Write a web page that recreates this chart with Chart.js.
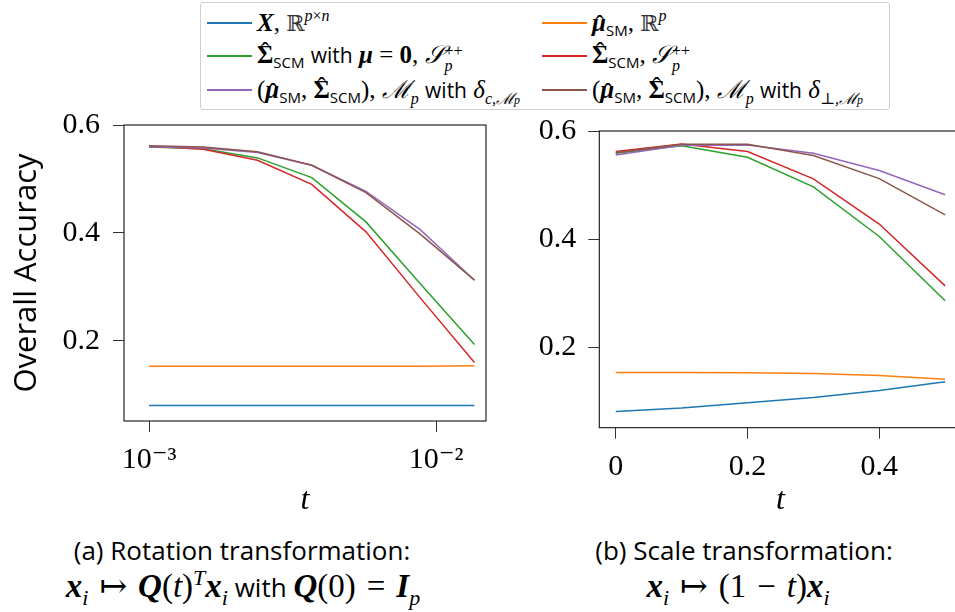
<!DOCTYPE html>
<html>
<head>
<meta charset="utf-8">
<script src="https://cdn.jsdelivr.net/npm/chart.js@4.4.0/dist/chart.umd.min.js"></script>
<style>
  html, body { margin: 0; padding: 0; background: #fff; }
  #wrap { position: relative; width: 955px; height: 612px; overflow: hidden; }
  canvas { position: absolute; }
  #rot { left: 0; top: 110px; }
  #scale { left: 500px; top: 110px; }
  .m { font-family: "Liberation Serif", "DejaVu Serif", serif; }
  #legend { position: absolute; left: 200px; top: 2px; width: 688px; height: 106px;
    border: 1px solid #d0d0d0; border-radius: 3px; background: #fff; }
  .item { position: absolute; display: flex; align-items: center; height: 32px; white-space: nowrap; color: #000; }
  .item .ln { width: 45px; height: 1.6px; margin-right: 5px; flex: none; }
  .tx { font-family: "Liberation Serif", "DejaVu Serif", serif; font-size: 25px; line-height: 32px; }
  .w { font-family: "Open Sans", sans-serif; font-size: 21px; }
  .sub { font-family: "Open Sans", sans-serif; font-size: 15px; vertical-align: -5px; line-height: 0; }
  .msub { font-size: 16px; vertical-align: -6px; font-style: italic; line-height: 0; }
  .msup { font-size: 16px; vertical-align: 10px; line-height: 0; }
  .ss { display: inline-flex; flex-direction: column; font-size: 16px; line-height: 15px;
    vertical-align: middle; margin-left: 1px; }
  .bb { font-family: "DejaVu Serif", serif; color: #333; font-size: 22px; }
  .hat, .hatC { position: relative; display: inline-block; }
  .hat::after, .hatC::after { content: "ˆ"; position: absolute; left: 55%; transform: translateX(-50%);
    font-weight: normal; font-style: normal; }
  .hat::after { top: 0.1em; }
  .hatC::after { top: -0.14em; left: 50%; }
  .cap { position: absolute; text-align: center; white-space: nowrap; transform: translateX(-50%);
    font-family: "Open Sans", sans-serif; font-size: 26px; color: #000; }
  .cap .m { font-size: 33px; }
  .cap sub, .cap sup { line-height: 0; font-size: 22px; }
  .sp { display: inline-block; width: 11px; }
</style>
</head>
<body>
<div id="wrap">
  <div id="legend">
    <div class="item" style="left:6px;top:4px"><span class="ln" style="background:#1f77b4"></span><span class="tx"><b><i>X</i></b>,&nbsp;<span class="bb">ℝ</span><span class="msup"><i>p</i>×<i>n</i></span></span></div>
    <div class="item" style="left:341px;top:4px"><span class="ln" style="background:#ff7f0e"></span><span class="tx"><b><i class="hat">μ</i></b><span class="sub">SM</span>,&nbsp;<span class="bb">ℝ</span><span class="msup"><i>p</i></span></span></div>
    <div class="item" style="left:6px;top:37px"><span class="ln" style="background:#2ca02c"></span><span class="tx"><b class="hatC">Σ</b><span class="sub">SCM</span>&nbsp;<span class="w">with</span>&nbsp;<b><i>μ</i></b>&nbsp;=&nbsp;<b>0</b>,&nbsp;<i>𝒮</i><span class="ss"><span>++</span><i>p</i></span></span></div>
    <div class="item" style="left:341px;top:37px"><span class="ln" style="background:#d62728"></span><span class="tx"><b class="hatC">Σ</b><span class="sub">SCM</span>,&nbsp;<i>𝒮</i><span class="ss"><span>++</span><i>p</i></span></span></div>
    <div class="item" style="left:6px;top:71px"><span class="ln" style="background:#9467bd"></span><span class="tx">(<b><i class="hat">μ</i></b><span class="sub">SM</span>,&nbsp;<b class="hatC">Σ</b><span class="sub">SCM</span>),&nbsp;<i>ℳ</i><span class="msub">p</span>&nbsp;<span class="w">with</span>&nbsp;<i>δ</i><span class="msub">c,ℳ<span style="font-size:12px">p</span></span></span></div>
    <div class="item" style="left:341px;top:71px"><span class="ln" style="background:#8c564b"></span><span class="tx">(<b><i class="hat">μ</i></b><span class="sub">SM</span>,&nbsp;<b class="hatC">Σ</b><span class="sub">SCM</span>),&nbsp;<i>ℳ</i><span class="msub">p</span>&nbsp;<span class="w">with</span>&nbsp;<i>δ</i><span class="msub">⊥,ℳ<span style="font-size:12px">p</span></span></span></div>
  </div>

  <canvas id="rot" width="500" height="410"></canvas>
  <canvas id="scale" width="500" height="410"></canvas>

  <div class="cap" style="left:242px;top:532px">(a) Rotation transformation:</div>
  <div class="cap" style="left:243px;top:566px"><span class="m"><b><i>x</i></b><sub><i>i</i></sub><span class="sp"></span>↦<span class="sp"></span><b><i>Q</i></b>(<i>t</i>)<sup><i>T</i></sup><b><i>x</i></b><sub><i>i</i></sub></span> with <span class="m"><b><i>Q</i></b>(0)<span class="sp"></span>=<span class="sp"></span><b><i>I</i></b><sub><i>p</i></sub></span></div>
  <div class="cap" style="left:744px;top:532px">(b) Scale transformation:</div>
  <div class="cap" style="left:738px;top:566px"><span class="m"><b><i>x</i></b><sub><i>i</i></sub><span class="sp"></span>↦<span class="sp"></span>(1<span class="sp"></span>−<span class="sp"></span><i>t</i>)<b><i>x</i></b><sub><i>i</i></sub></span></div>
</div>

<script>
// rotation experiment (log t)
const tRot = [0.001, 0.001545, 0.002388, 0.00369, 0.0057, 0.00881, 0.01361];
const rotX = [0.080, 0.080, 0.080, 0.080, 0.080, 0.080, 0.080];
const rotMu = [0.153, 0.153, 0.153, 0.153, 0.153, 0.153, 0.154];
const rotScm0 = [0.559, 0.556, 0.539, 0.5025, 0.4204, 0.3058, 0.1933];
const rotScm = [0.5606, 0.555, 0.5346, 0.490, 0.402, 0.2796, 0.160];
const rotMc = [0.5595, 0.5575, 0.549, 0.5254, 0.477, 0.406, 0.3124];
const rotMp = [0.5617, 0.559, 0.5505, 0.5254, 0.4748, 0.3976, 0.3124];

// scale experiment
const tScale = [0, 0.1, 0.2, 0.3, 0.4, 0.5];
const scX = [0.0813, 0.0876, 0.0974, 0.1072, 0.1202, 0.1362];
const scMu = [0.1534, 0.1534, 0.153, 0.1516, 0.1479, 0.1412];
const scScm0 = [0.559, 0.5725, 0.5515, 0.4967, 0.405, 0.286];
const scScm = [0.562, 0.576, 0.562, 0.5114, 0.428, 0.3137];
const scMc = [0.5558, 0.5737, 0.5743, 0.559, 0.5268, 0.482];
const scMp = [0.560, 0.5756, 0.5756, 0.5546, 0.512, 0.445];

const yTicks = [0.2, 0.4, 0.6];
const rotTicks = [0.001, 0.01];
const scaleTicks = [0, 0.2, 0.4];

const colors = ["#1f77b4", "#ff7f0e", "#2ca02c", "#d62728", "#9467bd", "#8c564b"];
const serif = "'Liberation Serif', 'DejaVu Serif', serif";

const sup = { "-": "⁻", 0: "⁰", 1: "¹", 2: "²", 3: "³", 4: "⁴", 5: "⁵", 6: "⁶", 7: "⁷", 8: "⁸", 9: "⁹" };
function pow10(v) {
  const e = String(Math.round(Math.log10(v)));
  return "10" + e.split("").map((c) => sup[c]).join("");
}

// axes box like matplotlib spines
const frame = {
  id: "frame",
  afterDraw(chart) {
    const { ctx, chartArea: a } = chart;
    ctx.save();
    ctx.strokeStyle = "#111";
    ctx.lineWidth = 1.1;
    ctx.strokeRect(a.left, a.top, a.right - a.left, a.bottom - a.top);
    ctx.restore();
  },
};

function makeSets(xs, series) {
  return series.map((ys, i) => ({
    data: xs.map((x, j) => ({ x: x, y: ys[j] })),
    borderColor: colors[i],
    borderWidth: 1.5,
    pointRadius: 0,
    tension: 0,
    order: series.length - i,
  }));
}

function makeChart(id, opts) {
  return new Chart(document.getElementById(id), {
    type: "line",
    data: { datasets: makeSets(opts.xs, opts.series) },
    plugins: [frame],
    options: {
      responsive: false,
      animation: false,
      devicePixelRatio: 1,
      layout: { padding: opts.padding },
      plugins: { legend: { display: false }, tooltip: { enabled: false } },
      scales: {
        x: {
          type: opts.xType,
          min: opts.xMin,
          max: opts.xMax,
          border: { display: false },
          grid: { drawOnChartArea: false, tickLength: 11, tickColor: "#333", tickWidth: 1 },
          ticks: {
            color: "#000",
            padding: 10,
            maxRotation: 0,
            font: { family: serif, size: 30 },
            callback: opts.xLabel,
          },
          title: {
            display: true,
            text: "t",
            color: "#000",
            font: { family: serif, size: 32, style: "italic" },
            padding: { top: 0, bottom: 0 },
          },
          afterBuildTicks: (s) => { s.ticks = opts.xTicks.map((v) => ({ value: v })); },
          afterFit: (s) => { s.height = opts.xHeight; s.paddingLeft = 0; s.paddingRight = 0; },
        },
        y: {
          min: 0.0514,
          max: 0.6,
          border: { display: false },
          grid: { drawOnChartArea: false, tickLength: 11, tickColor: "#333", tickWidth: 1 },
          ticks: {
            color: "#000",
            padding: opts.yPad,
            font: { family: serif, size: 30 },
            callback: (v) => v.toFixed(1),
          },
          title: {
            display: opts.yTitle,
            text: "Overall Accuracy",
            color: "#000",
            font: { family: "'Open Sans', sans-serif", size: 31 },
            padding: { top: 9, bottom: 0 },
          },
          afterBuildTicks: (s) => { s.ticks = yTicks.map((v) => ({ value: v })); },
          afterFit: (s) => { s.width = opts.yWidth; s.paddingTop = 0; s.paddingBottom = 0; },
        },
      },
    },
  });
}

makeChart("rot", {
  xs: tRot,
  series: [rotX, rotMu, rotScm0, rotScm, rotMc, rotMp],
  xType: "logarithmic",
  xMin: 0.000818,
  xMax: 0.01493,
  xTicks: rotTicks,
  xLabel: (v) => pow10(v),
  xHeight: 99,
  yWidth: 124,
  yPad: 13,
  yTitle: true,
  padding: { left: 0, top: 15, right: 14, bottom: 0 },
});

makeChart("scale", {
  xs: tScale,
  series: [scX, scMu, scScm0, scScm, scMc, scMp],
  xType: "linear",
  xMin: -0.025,
  xMax: 0.525,
  xTicks: scaleTicks,
  xLabel: (v) => (v === 0 ? "0" : v.toFixed(1)),
  xHeight: 92.3,
  yWidth: 99.3,
  yPad: 12,
  yTitle: false,
  padding: { left: 0, top: 21, right: 38.4, bottom: 0 },
});
</script>
</body>
</html>
